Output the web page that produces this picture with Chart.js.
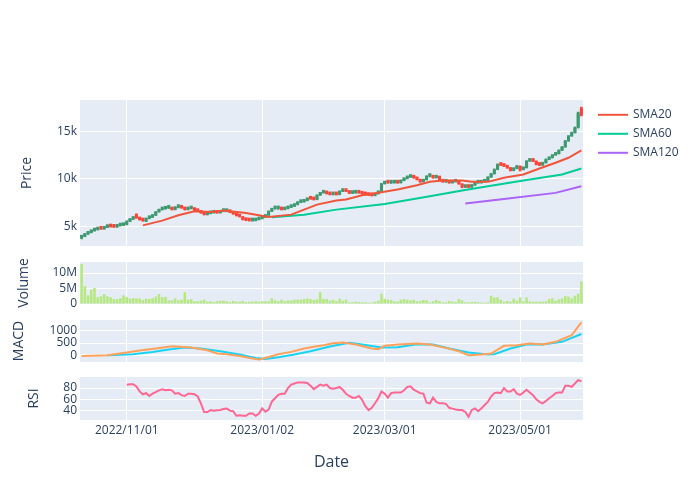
<!DOCTYPE html>
<html>
<head>
<meta charset="utf-8">
<title>Price / Volume / MACD / RSI</title>
<script src="https://cdn.jsdelivr.net/npm/chart.js@4.4.1/dist/chart.umd.min.js"></script>
<style>
html,body{margin:0;padding:0;background:#ffffff;}
#wrap{position:relative;width:700px;height:500px;overflow:hidden;background:#fff;}
#wrap canvas{position:absolute;left:0;}
</style>
</head>
<body>
<div id="wrap">
<canvas id="cPrice"></canvas>
<canvas id="cVol"></canvas>
<canvas id="cMacd"></canvas>
<canvas id="cRsi"></canvas>
</div>
<script>
// ---------------- DATA ----------------
const startDate = '2022/10/12';
const holidays = ['2022/11/24','2022/12/26','2023/01/16','2023/01/23','2023/01/24','2023/02/20','2023/04/07'];
const tickLabels = ['2022/11/01','2023/01/02','2023/03/01','2023/05/01'];

const closes = [3959,4205,4380,4556,4661,4767,4732,4907,5082,4977,
 4942,5082,5117,5188,5539,5749,5960,5900,5720,5609,
 5850,5960,6170,6522,6767,6838,6943,6943,6767,7013,
 7013,6943,6767,6873,6943,6662,6591,6416,6241,6360,
 6416,6522,6416,6591,6591,6591,6486,6311,6135,6030,
 5714,5644,5609,5609,5714,5820,5960,6170,6591,6873,
 6873,6873,6767,6873,7013,7118,7294,7539,7575,7715,
 7926,7891,7820,8276,8523,8628,8452,8347,8417,8347,
 8698,8768,8698,8487,8523,8592,8523,8417,8347,8276,
 8241,8417,8698,9470,9681,9575,9575,9681,9575,9821,
 10032,10172,10277,10102,9926,9681,9900,10277,10277,10102,
 10277,9821,9681,9681,9575,9681,9821,9470,9119,9224,
 9119,9329,9575,9575,9681,9821,10172,10523,10979,11506,
 11435,11330,11155,10874,11085,11330,10979,11155,11856,12032,
 11856,11506,11435,11681,12032,12208,12488,12629,12980,13331,
 13963,14489,14841,15367,16900,16750];

const opens = [3800,3959,4205,4380,4556,4661,4767,4732,4907,5082,
 4977,4942,5082,5117,5188,5539,5749,6250,5900,5720,
 5550,5850,5960,6170,6522,6767,6838,6943,6943,6767,
 7013,7013,6943,6767,6873,6943,6662,6591,6416,6241,
 6360,6416,6522,6416,6591,6591,6591,6486,6311,6135,
 6030,5714,5644,5609,5609,5714,5820,5960,6170,6591,
 6873,6873,6873,6767,6873,7013,7118,7294,7539,7575,
 7715,7926,7891,7820,8276,8523,8628,8452,8347,8417,
 8347,8698,8768,8698,8487,8523,8592,8523,8417,8347,
 8276,8241,8417,8698,9470,9681,9575,9575,9681,9575,
 9821,10032,10172,10277,10102,9926,9681,9900,10277,10277,
 10102,10277,9821,9681,9681,9575,9681,9821,9470,9119,
 9224,9119,9329,9575,9575,9681,9821,10172,10523,10979,
 11506,11435,11330,11155,10874,11085,11330,10979,11155,11856,
 12032,11856,11506,11435,11681,12032,12208,12488,12629,12980,
 13331,13963,14489,14841,15367,17350];

const highs = [4020,4260,4430,4600,4720,4850,4830,4960,5150,5120,
 5030,5120,5180,5250,5600,5810,6020,6330,5950,5760,
 5900,6030,6230,6580,6820,6900,7010,7020,6980,7070,
 7090,7060,6980,6930,7000,6980,6700,6620,6450,6410,
 6470,6580,6560,6640,6650,6660,6620,6510,6340,6170,
 6050,5750,5690,5670,5760,5870,6010,6230,6640,6920,
 6950,6930,6900,6920,7060,7170,7350,7590,7650,7780,
 7990,7980,7930,8330,8580,8700,8660,8490,8470,8460,
 8750,8830,8810,8730,8580,8650,8640,8560,8450,8380,
 8310,8470,8750,9530,9750,9720,9650,9740,9710,9880,
 10090,10230,10340,10310,10140,9960,9960,10330,10420,10310,
 10330,10300,9860,9750,9720,9740,9880,9850,9500,9280,
 9260,9380,9630,9640,9740,9880,10230,10580,11040,11570,
 11560,11480,11370,11190,11140,11390,11360,11210,11910,12090,
 12070,11890,11550,11740,12090,12270,12550,12700,13040,13400,
 14030,14550,14910,15440,17000,17520];

const lows = [3700,3920,4150,4330,4500,4620,4680,4700,4880,4930,
 4890,4900,5040,5080,5160,5500,5720,5850,5660,5540,
 5500,5800,5930,6140,6490,6720,6800,6880,6720,6740,
 6950,6900,6720,6730,6840,6620,6540,6380,6200,6200,
 6320,6390,6370,6390,6540,6530,6440,6270,6090,5980,
 5680,5600,5560,5550,5580,5690,5790,5930,6150,6560,
 6810,6800,6720,6740,6840,6980,7090,7260,7490,7540,
 7690,7840,7770,7800,8250,8490,8400,8300,8300,8290,
 8320,8650,8650,8440,8440,8480,8470,8370,8300,8230,
 8190,8210,8390,8680,9440,9520,9510,9540,9520,9550,
 9790,9990,10140,10050,9880,9630,9650,9870,10200,10050,
 10070,9780,9630,9620,9530,9540,9650,9420,9060,9080,
 9070,9090,9300,9520,9540,9650,9790,10140,10490,10950,
 11380,11280,11100,10820,10840,11050,10820,10940,11130,11820,
 11800,11460,11380,11400,11650,12000,12180,12450,12600,12950,
 13300,13930,14450,14800,15330,16600];

// volume, in millions
const volumeM = [12.9,5.7,2.8,4.6,5.2,2.2,2.5,3.2,2.5,2.2,
 1.6,1.6,1.9,2.8,2.3,1.7,1.9,1.8,1.8,1.3,
 1.7,1.6,1.9,2.4,3.2,2.2,2.3,1.2,1.2,1.8,
 1.2,1.4,3.8,1.4,1.6,0.9,0.9,1.1,1.4,0.75,
 0.9,0.65,0.9,1.0,1.1,0.9,0.65,1.0,0.75,0.75,
 1.0,0.65,0.75,0.75,0.9,0.75,0.9,0.9,0.9,1.9,
 1.2,0.9,1.4,0.9,1.2,1.1,1.4,1.4,1.4,1.6,
 1.8,1.6,1.3,1.5,3.8,1.6,1.6,1.1,1.4,0.86,
 1.72,1.08,1.4,0.54,0.54,0.75,0.65,0.54,0.54,0.43,
 0.43,0.75,1.08,3.33,1.72,1.4,1.29,0.86,0.75,1.4,
 1.61,1.4,1.18,1.4,0.86,0.97,1.29,1.18,0.54,0.86,
 1.29,0.97,0.54,0.54,0.97,0.75,0.65,1.61,1.18,0.54,
 0.54,0.65,0.75,0.54,0.43,0.43,0.54,2.69,2.04,2.15,
 1.4,0.75,0.97,0.75,1.72,1.08,2.15,0.86,2.15,0.86,
 0.75,0.75,0.75,0.75,0.86,1.61,1.83,1.08,1.5,1.83,
 2.58,2.37,1.83,2.69,3.33,7.31];

// moving averages (sampled along the drawn lines: day index / value)
const sma20X = [19,25,30,35,40,44,51,58,65,69,73,79,82,87,93,98,104,108,112,118,121,126,131,137,142,147,151,155];
const sma20Y = [5117,5609,6170,6591,6522,6662,6416,5995,6241,6767,7294,7715,7820,8276,8592,8873,9329,9681,9821,9821,9681,9681,10102,10453,11085,11681,12208,12980];
const sma60X = [59,69,79,94,108,118,126,137,149,155];
const sma60Y = [5960,6241,6767,7364,8171,8768,9224,9821,10453,11085];
const sma120X = [119,131,147,155];
const sma120Y = [7399,7891,8523,9224];

// MACD and signal (sampled along the lines)
const macdX = [0,8,14,18,23,28,34,39,42,45,49,53,55,57,61,65,69,72,75,78,81,85,90,92,94,98,104,108,113,117,120,124,127,131,135,139,143,147,152,155];
const macdY = [-27,0,110,192,274,370,315,206,69,41,-27,-137,-178,-110,41,137,274,343,411,490,521,438,274,247,384,438,480,438,301,164,0,27,69,384,411,480,438,548,822,1343];
const signalX = [8,16,22,27,32,37,43,49,54,57,61,66,71,77,83,87,93,98,104,109,114,120,126,128,133,138,143,149,155];
const signalY = [0,41,137,233,315,274,164,27,-110,-151,-82,27,164,360,507,438,315,329,452,438,274,110,27,41,274,438,438,548,870];

// RSI, day 14 onwards
const rsiStart = 14;
const rsi = [86,86.6,86.6,83,74,69,71,66,70,73,
 76,78,76,77,76,70,71,67.5,66,70,
 70,69,65,53,37.6,37.6,41,40,40.6,41,
 43,43.6,40,39,31,31.6,31,31,35,35,
 31,35,44,38,42,56,62,68,70,70,
 80,86,88,90,90,90,89,84,78,82,
 86,84,86,80,79,80,82,77,70,66,
 63,63,66,59,48,41,45,53,62,74,
 70,63,71,72,72,72,76,82,83,77,
 74,71,70,54,53,63,55.5,53,53,52,
 45,43.6,42,41,41,37.6,29,41,44,39,
 44,50,55.5,65,71,72,71,80,74,74,
 78,70,68,72,77,72,67.5,60,55.5,53,
 57,62,66,71,72,72,84,84,82,88,
 94,92];

// ---------------- STYLE / LAYOUT ----------------
const FONT = "'Open Sans', 'Noto Sans', sans-serif";
const TXT = '#2a3f5f';
const INC = '#3D9970', DEC = '#FF4136';
const PLOT_LEFT = 80, PLOT_RIGHT = 583, PAD = 14;
const N = closes.length;

function buildDates() {
  const [y, m, d] = startDate.split('/').map(Number);
  let t = Date.UTC(y, m - 1, d);
  const out = [];
  while (out.length < N) {
    const dt = new Date(t);
    const wd = dt.getUTCDay();
    const s = dt.getUTCFullYear() + '/' + String(dt.getUTCMonth() + 1).padStart(2, '0') + '/' + String(dt.getUTCDate()).padStart(2, '0');
    if (wd !== 0 && wd !== 6 && !holidays.includes(s)) out.push(s);
    t += 86400000;
  }
  return out;
}
const dates = buildDates();
const tickIdx = tickLabels.map(t => dates.indexOf(t));

const bgPlugin = {
  id: 'plotBg',
  beforeDraw(chart) {
    const a = chart.chartArea, ctx = chart.ctx;
    ctx.save();
    ctx.fillStyle = '#E5ECF6';
    ctx.fillRect(a.left, a.top, a.right - a.left, a.bottom - a.top);
    ctx.restore();
  }
};

const legendPlugin = {
  id: 'sideLegend',
  afterDraw(chart) {
    const ctx = chart.ctx;
    const lines = chart.data.datasets.filter(d => d.type === 'line');
    ctx.save();
    lines.forEach((ds, k) => {
      const y = PAD + 14.8 + k * 19;
      ctx.strokeStyle = ds.borderColor;
      ctx.lineWidth = 2;
      ctx.beginPath();
      ctx.moveTo(598, y);
      ctx.lineTo(628, y);
      ctx.stroke();
      ctx.fillStyle = TXT;
      ctx.font = '12px ' + FONT;
      ctx.textBaseline = 'middle';
      ctx.textAlign = 'left';
      ctx.fillText(ds.label, 633, y);
    });
    ctx.restore();
  }
};

function makeChart(id, type, top, bottom, isBottom, datasets, yCfg, extra) {
  const cv = document.getElementById(id);
  const cTop = top - PAD;
  const h = isBottom ? 500 - cTop : (bottom - top) + 2 * PAD;
  cv.width = 700; cv.height = h;
  cv.style.width = '700px'; cv.style.height = h + 'px'; cv.style.top = cTop + 'px';
  const xH = isBottom ? h - PAD - (bottom - top) : 0;
  return new Chart(cv, {
    type: type,
    data: { datasets: datasets },
    options: {
      responsive: false,
      animation: false,
      devicePixelRatio: 1,
      layout: { padding: { left: 0, right: 700 - PLOT_RIGHT, top: PAD, bottom: isBottom ? 0 : PAD } },
      plugins: { legend: { display: false }, tooltip: { enabled: false } },
      scales: {
        x: {
          type: 'linear', min: -0.5, max: N - 0.5, offset: false,
          afterBuildTicks(s) { s.ticks = tickIdx.map(v => ({ value: v })); },
          afterFit(s) { s.height = xH; },
          grid: { color: '#ffffff', lineWidth: 1, drawTicks: false, offset: false },
          border: { display: false },
          ticks: { display: isBottom, autoSkip: false, maxRotation: 0, padding: 3, color: TXT,
                   font: { family: FONT, size: 12 }, callback: v => dates[v] },
          title: { display: isBottom, text: 'Date', color: TXT, font: { family: FONT, size: 16 },
                   padding: { top: 0, bottom: 28.4 } }
        },
        y: {
          type: 'linear', min: yCfg.min, max: yCfg.max,
          afterBuildTicks(s) { s.ticks = yCfg.ticks.map(v => ({ value: v })); },
          afterFit(s) { s.width = PLOT_LEFT; },
          grid: { color: '#ffffff', drawTicks: false,
                  lineWidth: c => (yCfg.zero && c.tick && c.tick.value === 0) ? 2 : 1 },
          border: { display: false },
          ticks: { padding: 3, color: TXT, font: { family: FONT, size: 12 }, callback: yCfg.fmt },
          title: { display: true, text: yCfg.title, color: TXT, font: { family: FONT, size: 14 },
                   padding: { top: yCfg.tpad, bottom: 0 } }
        }
      }
    },
    plugins: [bgPlugin].concat(extra || [])
  });
}

const upDown = ctx => (closes[ctx.dataIndex] >= opens[ctx.dataIndex] ? INC : DEC);
const pts = (xs, ys) => xs.map((x, k) => ({ x: x, y: ys[k] }));

// Price panel
makeChart('cPrice', 'bar', 100, 246, false, [
  { type: 'line', label: 'SMA20', data: pts(sma20X, sma20Y), borderColor: '#EF553B', borderWidth: 2, pointRadius: 0, fill: false, order: 0 },
  { type: 'line', label: 'SMA60', data: pts(sma60X, sma60Y), borderColor: '#00cc96', borderWidth: 2, pointRadius: 0, fill: false, order: 0 },
  { type: 'line', label: 'SMA120', data: pts(sma120X, sma120Y), borderColor: '#ab63fa', borderWidth: 2, pointRadius: 0, fill: false, order: 0 },
  { type: 'bar', label: 'body', data: closes.map((c, i) => ({ x: i, y: [opens[i], c] })),
    backgroundColor: upDown, barPercentage: 0.95, categoryPercentage: 1, grouped: false, minBarLength: 3, order: 2 },
  { type: 'bar', label: 'wick', data: highs.map((hv, i) => ({ x: i, y: [lows[i], hv] })),
    backgroundColor: upDown, barThickness: 2, grouped: false, order: 3 }
], { min: 2950, max: 18270, ticks: [5000, 10000, 15000], fmt: v => (v / 1000) + 'k', title: 'Price', tpad: 19.1 }, [legendPlugin]);

// Volume panel
makeChart('cVol', 'bar', 262, 304, false, [
  { type: 'bar', label: 'Volume', data: volumeM.map((v, i) => ({ x: i, y: v })),
    backgroundColor: '#B6E880', barPercentage: 0.8, categoryPercentage: 1 }
], { min: 0, max: 13.55, ticks: [0, 5, 10], fmt: v => (v === 0 ? '0' : v + 'M'), title: 'Volume', tpad: 16.1 });

// MACD panel
makeChart('cMacd', 'line', 320, 362, false, [
  { type: 'line', label: 'MACD', data: pts(macdX, macdY), borderColor: '#FFA15A', borderWidth: 2, pointRadius: 0, fill: false },
  { type: 'line', label: 'Signal', data: pts(signalX, signalY), borderColor: '#19d3f3', borderWidth: 2, pointRadius: 0, fill: false }
], { min: -276, max: 1440, ticks: [0, 500, 1000], fmt: v => String(v), title: 'MACD', tpad: 11.1, zero: true });

// RSI panel
makeChart('cRsi', 'line', 377, 420, true, [
  { type: 'line', label: 'RSI', data: rsi.map((v, k) => ({ x: rsiStart + k, y: v })), borderColor: '#FF6692', borderWidth: 2, pointRadius: 0, fill: false }
], { min: 23.4, max: 99.6, ticks: [40, 60, 80], fmt: v => String(v), title: 'RSI', tpad: 25.9 });
</script>
</body>
</html>
